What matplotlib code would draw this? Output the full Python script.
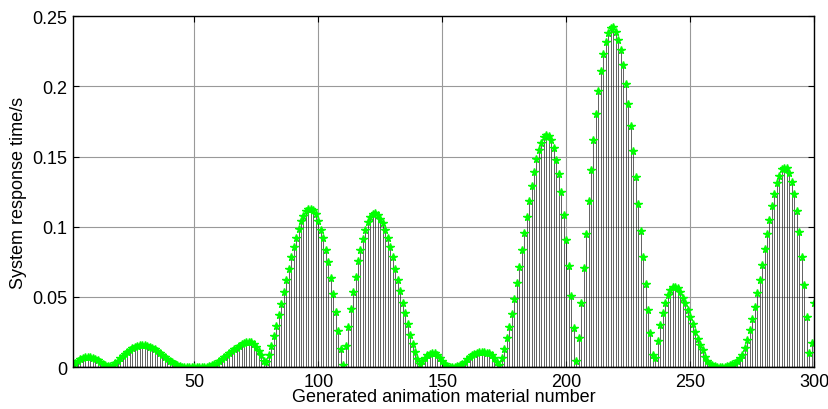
import numpy as np
import matplotlib
matplotlib.use('Agg')
import matplotlib.pyplot as plt

plt.rcParams['font.family'] = ['Liberation Sans', 'DejaVu Sans']

# material numbers 1..300
material_no = np.arange(1, 301)

# response time (s)
bump_small = [0.0015, 0.003, 0.0045, 0.0057, 0.0066, 0.0071, 0.0073, 0.0072, 0.0068, 0.006,
              0.005, 0.0038, 0.0025, 0.0013, 0.0005, 0.0006, 0.0015, 0.003, 0.0046, 0.0063,
              0.008, 0.0096, 0.011, 0.0123, 0.0135, 0.0145, 0.0152, 0.0156, 0.0158, 0.0157,
              0.0153, 0.0147, 0.0139, 0.0128, 0.0116, 0.0103, 0.0089, 0.0075, 0.006, 0.0047,
              0.0035, 0.0024, 0.0015, 0.0008, 0.0004, 0.0002, 0.0001, 0.0001, 0.0001, 0.0001,
              0.0001, 0.0001, 0.0001, 0.0002, 0.0004, 0.0008, 0.0014, 0.0022, 0.0032, 0.0044,
              0.0057, 0.0071, 0.0086, 0.01, 0.0114, 0.0128, 0.014, 0.0152, 0.0163, 0.0172,
              0.0178, 0.0181, 0.0176, 0.0165, 0.0142, 0.0116, 0.0085, 0.0045, 0.0035]  # 1..79
bump_mid = [0.0089, 0.0148, 0.0221, 0.0296, 0.0371, 0.0453, 0.0538, 0.062, 0.0702, 0.0782,
            0.0855, 0.0918, 0.0983, 0.1038, 0.1077, 0.111, 0.1129, 0.1129, 0.1117, 0.109,
            0.1042, 0.098, 0.0918, 0.0836, 0.0747, 0.0636, 0.0519, 0.0394, 0.026, 0.0127,
            0.0014, 0.015, 0.0284, 0.0413, 0.0535, 0.0643, 0.0753, 0.0836, 0.0913, 0.0977,
            0.1035, 0.107, 0.1094, 0.1098, 0.1082, 0.1059, 0.1024, 0.0977, 0.0922, 0.0859,
            0.0782, 0.0702, 0.0624, 0.0542, 0.046, 0.0383, 0.0308, 0.0232, 0.0167, 0.0108,
            0.0061, 0.0026, 0.0042, 0.0065, 0.0085, 0.0097, 0.0102, 0.0098, 0.0086, 0.0068,
            0.0046, 0.0026, 0.0011, 0.0004, 0.0002, 0.0002, 0.0005, 0.0012, 0.0024, 0.0038,
            0.0055, 0.0072, 0.0087, 0.0092, 0.0102, 0.0108, 0.011, 0.0108, 0.0103, 0.0098,
            0.0088, 0.0068, 0.0035, 0.0014]  # 80..173
bump_high = [0.0066, 0.0132, 0.0207, 0.0284, 0.0378, 0.0484, 0.0597, 0.0714, 0.0833, 0.0953,
             0.1071, 0.1183, 0.1294, 0.1387, 0.1481, 0.1547, 0.1599, 0.1639, 0.1653, 0.1646,
             0.1615, 0.1559, 0.1476, 0.1375, 0.1246, 0.1082, 0.0906, 0.0719, 0.0507, 0.0277,
             0.0042, 0.0207, 0.0455, 0.0707, 0.0948, 0.1183, 0.1404, 0.1615, 0.1802, 0.1969,
             0.211, 0.2232, 0.2319, 0.238, 0.2413, 0.242, 0.239, 0.2333, 0.2256, 0.215,
             0.202, 0.1875, 0.1716, 0.154, 0.1352, 0.1164, 0.0972, 0.0782, 0.0589, 0.0408,
             0.0244, 0.0085, 0.0066, 0.019, 0.03, 0.0385, 0.0455, 0.0512, 0.0549, 0.0568,
             0.0573, 0.0562, 0.0535, 0.0495, 0.0455, 0.0408, 0.0355, 0.0308, 0.0254, 0.0202,
             0.0155, 0.012, 0.0073, 0.0045, 0.0025, 0.0012, 0.0006, 0.0003, 0.0002, 0.0002,
             0.0004, 0.0008, 0.0014, 0.0022, 0.0032, 0.0045, 0.0065]  # 174..270
bump_last = [0.0089, 0.0139, 0.0197, 0.0265, 0.0343, 0.043, 0.0526, 0.0624, 0.073, 0.0843,
             0.0946, 0.1047, 0.1145, 0.1235, 0.131, 0.1364, 0.141, 0.1422, 0.1418, 0.138,
             0.1316, 0.1235, 0.111, 0.0965, 0.0788, 0.0582, 0.0355, 0.0103, 0.0174, 0.046]  # 271..300

response_time = np.array(bump_small + bump_mid + bump_high + bump_last)

x_ticks = [50, 100, 150, 200, 250, 300]
y_ticks = [0, 0.05, 0.1, 0.15, 0.2, 0.25]
y_tick_labels = ['0', '0.05', '0.1', '0.15', '0.2', '0.25']

fig = plt.figure(figsize=(8.29, 4.10), dpi=100)
ax = fig.add_axes([0.088, 0.102, 0.894, 0.856])

markerline, stemlines, baseline = ax.stem(material_no, response_time,
                                          linefmt='k-', markerfmt='*', basefmt='k-')
stemlines.set_linewidth(0.5)
stemlines.set_color('#222222')
markerline.set_color('#00ff00')
markerline.set_markersize(5.5)
baseline.set_linewidth(1)

ax.set_xlim(1, 300)
ax.set_ylim(0, 0.25)
ax.set_xticks(x_ticks)
ax.set_yticks(y_ticks)
ax.set_yticklabels(y_tick_labels)
ax.grid(True, color='0.6', linewidth=0.8)
ax.set_axisbelow(True)
ax.tick_params(direction='in', top=True, right=True, length=4, labelsize=13, pad=4)
for s in ax.spines.values():
    s.set_linewidth(1)

ax.set_xlabel('Generated animation material number', fontsize=13, labelpad=-1)
ax.set_ylabel('System response time/s', fontsize=13, labelpad=4)

fig.savefig('out.png', dpi=100)
